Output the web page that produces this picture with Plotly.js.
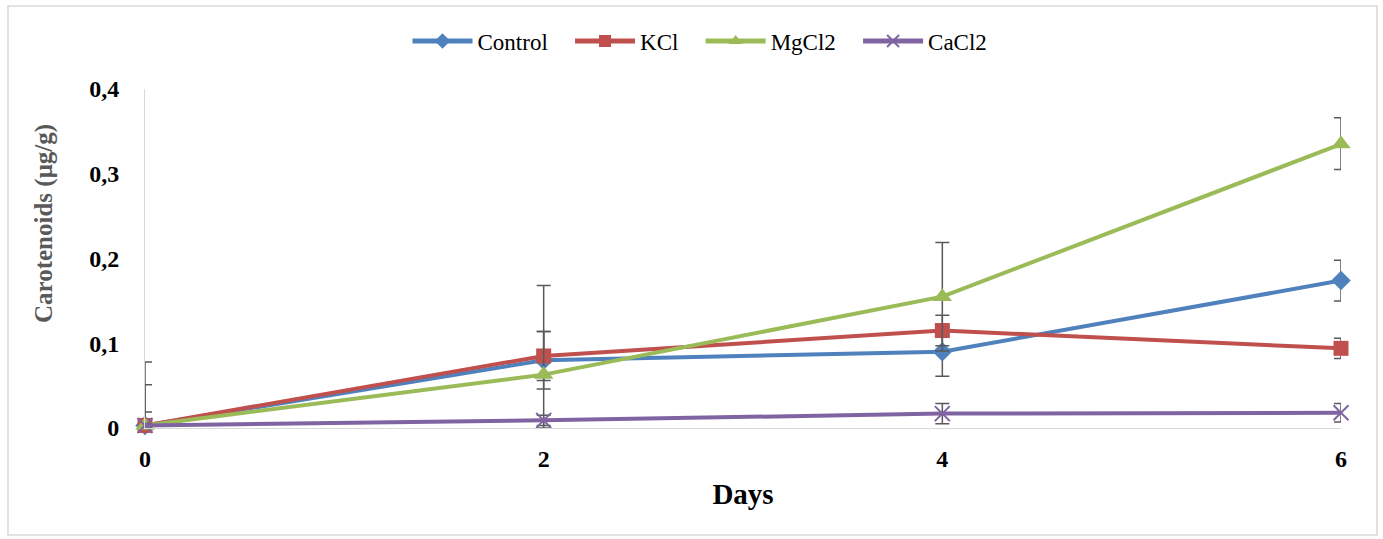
<!DOCTYPE html>
<html>
<head>
<meta charset="utf-8">
<script src="https://cdn.plot.ly/plotly-3.0.1.min.js"></script>
<style>html,body{margin:0;padding:0;background:#fff;}#chart{width:1383px;height:539px;}</style>
</head>
<body>
<div id="chart"></div>
<script>
const days = [0, 2, 4, 6];
const seriesNames = ["Control", "KCl", "MgCl2", "CaCl2"];
const control = [0.003, 0.080, 0.090, 0.174];
const kcl = [0.003, 0.085, 0.115, 0.094];
const mgcl2 = [0.003, 0.063, 0.155, 0.335];
const cacl2 = [0.003, 0.009, 0.017, 0.018];
const controlErrUp = [0.075, 0.034, 0.029, 0.024];
const controlErrDown = [0.003, 0.034, 0.029, 0.024];
const kclErrUp = [0.048, 0.029, 0.018, 0.012];
const kclErrDown = [0.003, 0.029, 0.018, 0.012];
const mgcl2ErrUp = [0.016, 0.105, 0.064, 0.031];
const mgcl2ErrDown = [0.003, 0.063, 0.064, 0.030];
const cacl2ErrUp = [0.002, 0.006, 0.012, 0.011];
const cacl2ErrDown = [0.003, 0.006, 0.012, 0.011];
const yTicks = [0, 0.1, 0.2, 0.3, 0.4];

const colors = ["#4F81BD", "#C0504D", "#9BBB59", "#8064A2"];
const symbols = ["diamond", "square", "triangle-up", "x-thin-open"];
const sizes = [15, 15, 17, 15];
const vals = [control, kcl, mgcl2, cacl2];
const ups = [controlErrUp, kclErrUp, mgcl2ErrUp, cacl2ErrUp];
const downs = [controlErrDown, kclErrDown, mgcl2ErrDown, cacl2ErrDown];
const pad = "\u00a0\u00a0\u00a0";

const traces = seriesNames.map((n, i) => ({
  type: "scatter",
  mode: "lines+markers",
  name: i < 3 ? n + pad : n,
  x: days,
  y: vals[i],
  cliponaxis: false,
  line: {color: colors[i], width: 4},
  marker: {symbol: symbols[i], size: sizes[i], color: colors[i],
           line: {color: colors[i], width: i === 3 ? 2 : 0}},
  error_y: {type: "data", symmetric: false, array: ups[i], arrayminus: downs[i],
            color: "#595959", thickness: 1.5, width: 7}
}));

const W = 1196, H = 339;
const px = v => (v - 145) / W;
const py = v => (428 - v) / H;

const layout = {
  width: 1383, height: 539,
  margin: {l: 145, r: 42, t: 89, b: 111},
  paper_bgcolor: "#fff", plot_bgcolor: "#fff",
  separators: ", ",
  showlegend: true,
  legend: {orientation: "h", x: px(700), xanchor: "center", y: py(41), yanchor: "middle",
           font: {family: "Liberation Serif", size: 23, color: "#000"},
           itemwidth: 60, itemsizing: "constant", traceorder: "normal"},
  xaxis: {range: [0, 6], tickvals: days, ticktext: days.map(String),
          showgrid: false, zeroline: false, showline: true, linecolor: "#d9d9d9", linewidth: 1,
          ticks: "", ticklabelstandoff: 9,
          tickfont: {family: "Liberation Serif", size: 24, color: "#000", weight: "bold"},
          title: {text: "<b>Days</b>", standoff: 12,
                  font: {family: "Liberation Serif", size: 29, color: "#000"}}},
  yaxis: {range: [0, 0.4], tickvals: yTicks,
          showgrid: false, zeroline: false, showline: true, linecolor: "#d9d9d9", linewidth: 1,
          ticks: "", ticklabelstandoff: 20,
          tickfont: {family: "Liberation Serif", size: 24, color: "#000", weight: "bold"}},
  annotations: [{text: "<b>Carotenoids (μg/g)</b>", xref: "paper", yref: "paper",
                 x: px(44), y: py(224), xanchor: "center", yanchor: "middle",
                 textangle: -90, showarrow: false,
                 font: {family: "Liberation Serif", size: 25, color: "#595959"}}],
  shapes: [{type: "rect", xref: "paper", yref: "paper",
            x0: px(8), x1: px(1377), y0: py(535), y1: py(6),
            line: {color: "#d9d9d9", width: 1.5}, fillcolor: "rgba(0,0,0,0)", layer: "below"}]
};

Plotly.newPlot("chart", traces, layout, {displayModeBar: false, staticPlot: true});
</script>
</body>
</html>
